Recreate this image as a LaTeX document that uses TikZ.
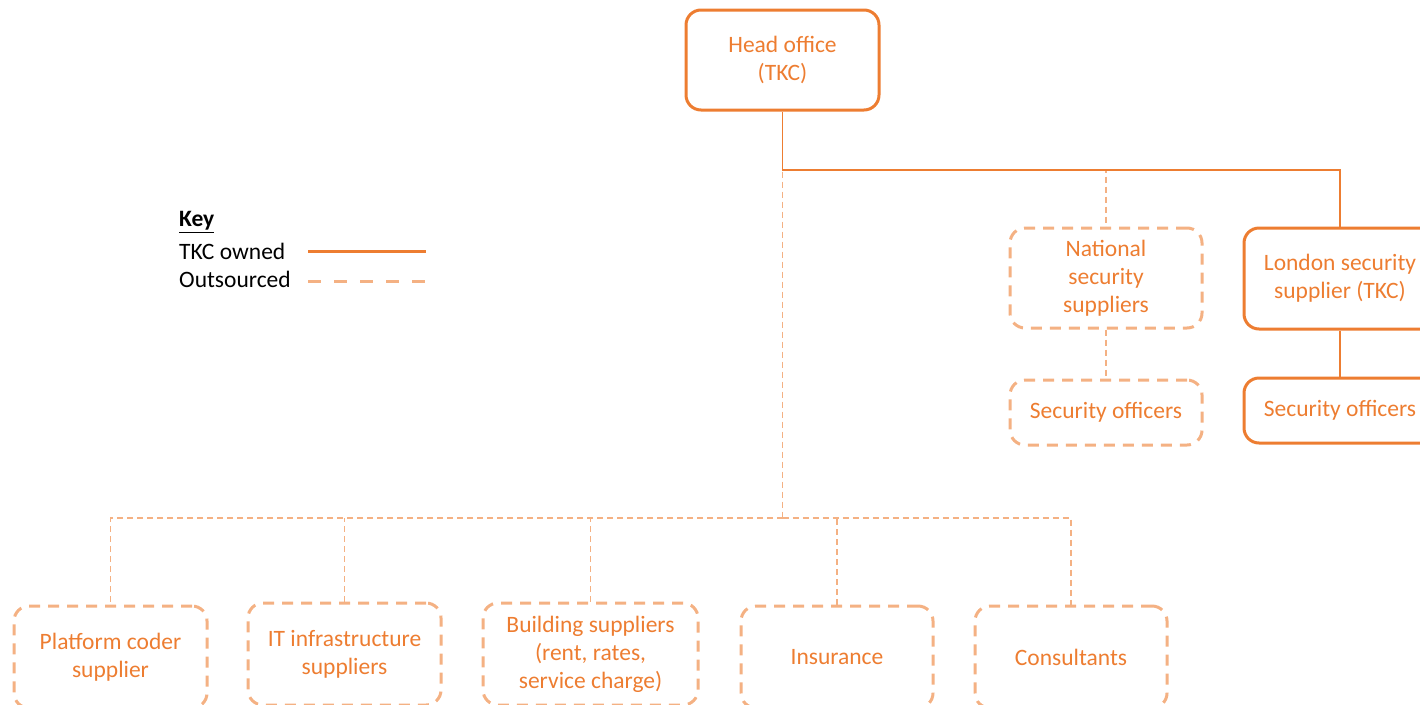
\documentclass[tikz,border=0pt]{standalone}
\usepackage{fontspec}
\setmainfont{Carlito}
\definecolor{tkc}{HTML}{ED7D31}
\definecolor{outs}{HTML}{F4B183}
\tikzset{
  ownedbox/.style={draw=tkc, line width=3pt, rounded corners=15pt, text=tkc, align=center, inner sep=0pt, font=\fontsize{23.5}{28}\selectfont},
  outbox/.style={draw=outs, line width=3pt, dash pattern=on 11pt off 8pt, rounded corners=15pt, text=tkc, align=center, inner sep=0pt, font=\fontsize{23.5}{28}\selectfont},
  ownedline/.style={draw=tkc, line width=1.6pt},
  outline/.style={draw=outs, line width=1.6pt, dash pattern=on 6pt off 4pt},
  keytext/.style={anchor=west, inner sep=0pt, font=\fontsize{23.5}{28}\selectfont, text=black},
}
\begin{document}
\begin{tikzpicture}[x=1pt, y=-1pt]
\useasboundingbox (0,0) rectangle (1420,704);
\clip (0,0) rectangle (1420,704);
% nodes
\node[ownedbox, minimum width=193pt, minimum height=100pt] (ho) at (782.5,60) {Head office\\(TKC)};
\node[outbox, minimum width=192pt, minimum height=100pt] (nat) at (1106,278) {National\\security\\suppliers};
\node[outbox, minimum width=192pt, minimum height=65pt] (natoff) at (1106,412.5) {Security officers};
\node[ownedbox, minimum width=192pt, minimum height=101pt] (lon) at (1340,278.5) {London security\\supplier (TKC)};
\node[ownedbox, minimum width=192pt, minimum height=65pt] (lonoff) at (1340,410.5) {Security officers};
\node[outbox, minimum width=193pt, minimum height=102pt] (b1) at (110.5,657) {Platform coder\\supplier};
\node[outbox, minimum width=193pt, minimum height=102pt] (b2) at (344.5,654) {IT infrastructure\\suppliers};
\node[outbox, minimum width=215pt, minimum height=102pt] (b3) at (590.5,654) {Building suppliers\\(rent, rates,\\service charge)};
\node[outbox, minimum width=192pt, minimum height=102pt] (b4) at (837,657) {Insurance};
\node[outbox, minimum width=192pt, minimum height=102pt] (b5) at (1071,657) {Consultants};
% connectors
\coordinate (split) at (782.5,170);
\coordinate (bus) at (782.5,518);
\draw[outline] (ho.south) -- (bus);
\draw[outline] (split) -| (nat.north);
\draw[ownedline] (ho.south) -- (split) -| (lon.north);
\draw[ownedline] (lon.south) -- (lonoff.north);
\draw[outline] (nat.south) -- (natoff.north);
\draw[outline] (bus) -| (b1.north);
\draw[outline] (bus) -| (b5.north);
\draw[outline] (b2.north) -- (b2.north |- bus);
\draw[outline] (b3.north) -- (b3.north |- bus);
\draw[outline] (b4.north) -- (b4.north |- bus);
% key
\node[keytext] (keyt) at (179,222) {\textbf{\underline{Key}}};
\node[keytext] (keyo) at (179,251) {TKC owned};
\node[keytext] (keyd) at (179,279) {Outsourced};
\coordinate (ko1) at (308,251);
\coordinate (ko2) at (426,251);
\coordinate (kd1) at (308,281);
\coordinate (kd2) at (426,281);
\draw[draw=tkc, line width=3pt] (ko1) -- (ko2);
\draw[draw=outs, line width=3pt, dash pattern=on 13pt off 13pt] (kd1) -- (kd2);
\end{tikzpicture}
\end{document}
